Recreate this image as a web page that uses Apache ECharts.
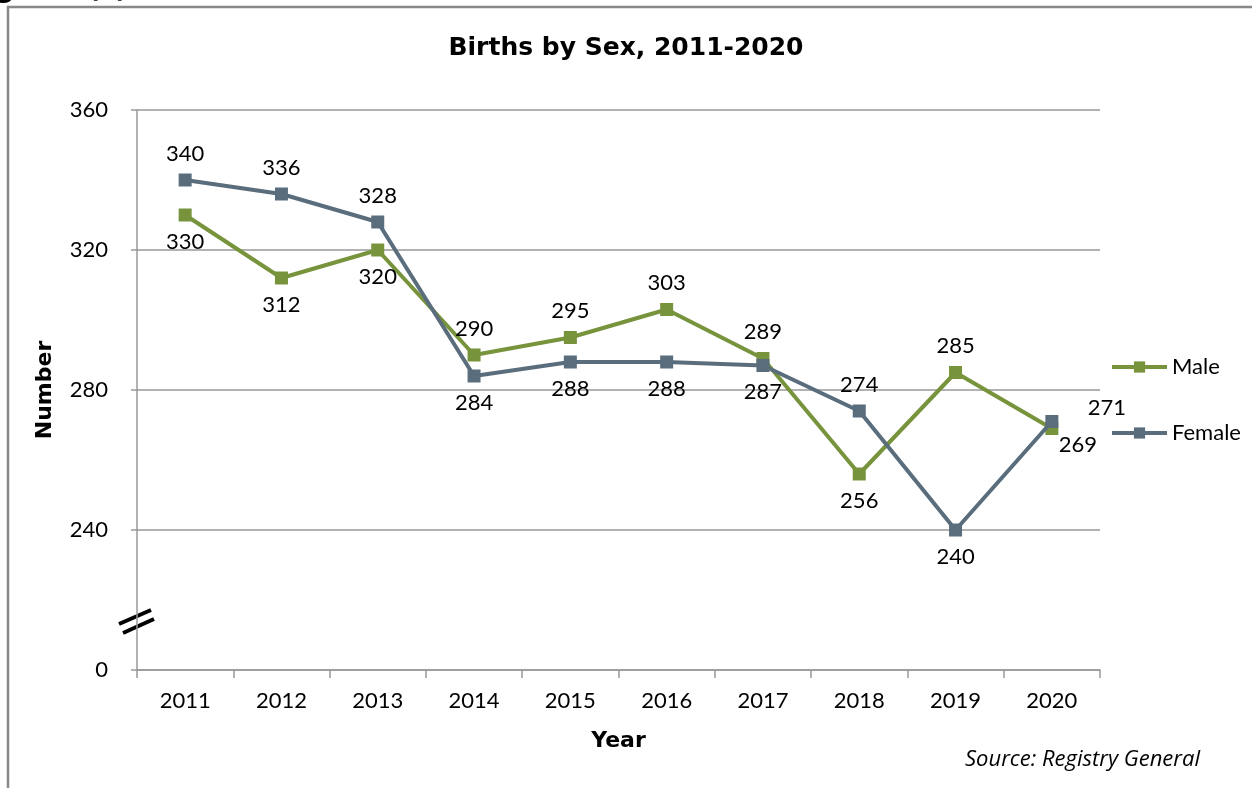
<!DOCTYPE html>
<html>
<head>
<meta charset="utf-8">
<script src="https://cdn.jsdelivr.net/npm/echarts@6/dist/echarts.min.js"></script>
<style>
html,body{margin:0;padding:0;background:#fff;}
#chart{width:1252px;height:788px;}
</style>
</head>
<body>
<div id="chart"></div>
<script>
// ---- data ----
var years = ['2011','2012','2013','2014','2015','2016','2017','2018','2019','2020'];
var male = [330, 312, 320, 290, 295, 303, 289, 256, 285, 269];
var female = [340, 336, 328, 284, 288, 288, 287, 274, 240, 271];
var yTicks = [200, 240, 280, 320, 360];        // 200 sits at the axis break, shown as "0"
var yTickLabels = ['0', '240', '280', '320', '360'];
// label placements (not data)
var maleLabelPos = ['bottom','bottom','bottom','top','top','top','top','bottom','top','bottom'];
var femaleLabelPos = ['top','top','top','bottom','bottom','bottom','bottom','top','bottom','top'];

var FONT = 'Lato, "DejaVu Sans", sans-serif';
var BFONT = '"DejaVu Sans", "Open Sans", sans-serif';
var IFONT = '"Open Sans", Lato, sans-serif';
var maleColor = '#77933C';
var femaleColor = '#5A6D7C';

function buildData(vals, pos, last) {
  return vals.map(function (v, i) {
    var item = { value: v, label: { position: pos[i] } };
    if (i === vals.length - 1) item.label.offset = last;
    return item;
  });
}

var chart = echarts.init(document.getElementById('chart'));
var option = {
  animation: false,
  backgroundColor: '#ffffff',
  title: {
    text: 'Births by Sex, 2011-2020',
    left: 'center',
    top: 31,
    textStyle: { fontFamily: BFONT, fontWeight: 'bold', fontSize: 25, color: '#000' }
  },
  legend: {
    orient: 'vertical',
    left: 1105,
    top: 351,
    itemWidth: 55,
    itemHeight: 14,
    itemGap: 44,
    lineStyle: { width: 4 },
    textStyle: { fontFamily: FONT, fontSize: 22, color: '#000' },
    data: ['Male', 'Female']
  },
  grid: { left: 137, right: 152, top: 110, bottom: 118, containLabel: false },
  xAxis: {
    type: 'category',
    data: years,
    boundaryGap: true,
    name: 'Year',
    nameLocation: 'middle',
    nameGap: 60,
    nameTextStyle: { fontFamily: BFONT, fontWeight: 'bold', fontSize: 22, color: '#000' },
    axisLine: { lineStyle: { color: '#999', width: 1.5 } },
    axisTick: { show: true, length: 8, lineStyle: { color: '#999', width: 1.5 } },
    axisLabel: { margin: 20, fontFamily: FONT, fontSize: 22, color: '#000' },
    splitLine: { show: false }
  },
  yAxis: {
    type: 'value',
    min: yTicks[0],
    max: yTicks[yTicks.length - 1],
    interval: 40,
    name: 'Number',
    nameLocation: 'middle',
    nameGap: 81,
    nameRotate: 90,
    nameTextStyle: { fontFamily: BFONT, fontWeight: 'bold', fontSize: 22, color: '#000' },
    axisLine: { show: true, lineStyle: { color: '#999', width: 1.5 } },
    axisTick: { show: true, length: 6, lineStyle: { color: '#999', width: 1.5 } },
    axisLabel: {
      margin: 29,
      fontFamily: FONT, fontSize: 22, color: '#000',
      formatter: function (v) {
        var idx = yTicks.indexOf(v);
        return idx >= 0 ? yTickLabels[idx] : '';
      }
    },
    splitLine: { show: true, lineStyle: { color: '#999', width: 1.5 } }
  },
  series: [
    {
      name: 'Male',
      type: 'line',
      data: buildData(male, maleLabelPos, [26, -10]),
      symbol: 'rect',
      symbolSize: 13,
      itemStyle: { color: maleColor },
      lineStyle: { color: maleColor, width: 4 },
      label: { show: true, distance: 9, fontFamily: FONT, fontSize: 22, color: '#000' },
      z: 2
    },
    {
      name: 'Female',
      type: 'line',
      data: buildData(female, femaleLabelPos, [55, 13]),
      symbol: 'rect',
      symbolSize: 13,
      itemStyle: { color: femaleColor },
      lineStyle: { color: femaleColor, width: 4 },
      label: { show: true, distance: 9, fontFamily: FONT, fontSize: 22, color: '#000' },
      z: 3
    }
  ]
};
chart.setOption(option);

// decorations: axis break marks, frame, cut-off figure caption, source note
var p = chart.convertToPixel({ gridIndex: 0 }, [0, 214]);
var ax = 137;
var by = p[1];
chart.setOption({
  graphic: [
    { type: 'line', shape: { x1: ax - 18, y1: by + 3, x2: ax + 14, y2: by - 11 }, style: { stroke: '#000', lineWidth: 4 } },
    { type: 'line', shape: { x1: ax - 14, y1: by + 12, x2: ax + 17, y2: by - 2 }, style: { stroke: '#000', lineWidth: 4 } },
    { type: 'polyline', shape: { points: [[8, 788], [8, 7], [1252, 7]] }, style: { stroke: '#888', lineWidth: 2.5, fill: null } },
    { type: 'text', left: -30, top: -28, style: { text: 'Figure 2(a)', font: 'bold 30px ' + IFONT, fill: '#000' } },
    { type: 'text', left: 965, top: 749, style: { text: 'Source: Registry General', font: 'italic 22px ' + IFONT, fill: '#000' } }
  ]
});
</script>
</body>
</html>
